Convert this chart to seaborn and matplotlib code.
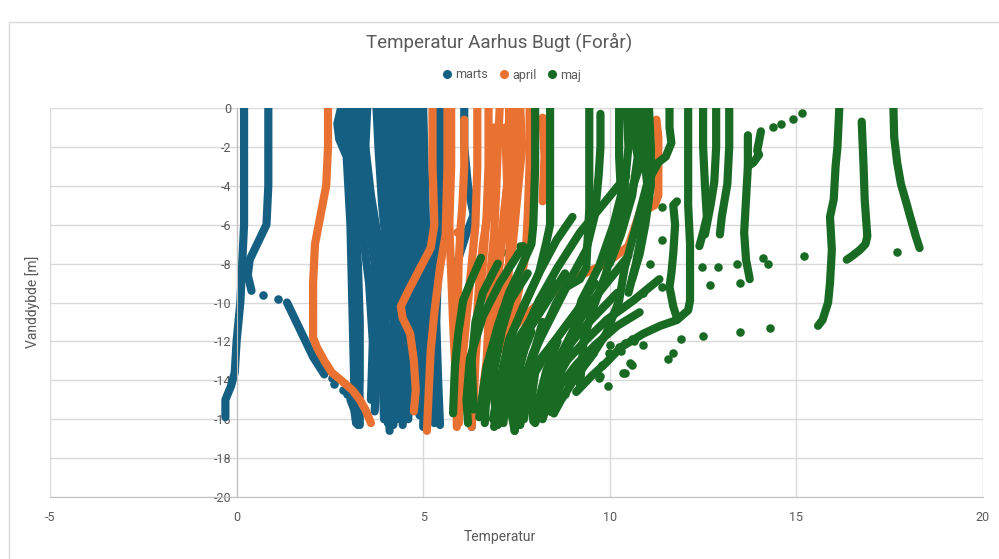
import matplotlib
matplotlib.use("Agg")
import matplotlib.pyplot as plt
from matplotlib.lines import Line2D
from matplotlib.patches import Rectangle
import numpy as np
import pandas as pd
import seaborn as sns

# * Months (series) and their colours
months = ["marts", "april", "maj"]
colors = {"marts": "#156082", "april": "#E97132", "maj": "#196B24"}

# * CTD casts: each cast is a list of (temperature, depth) points
marts_casts = [
    [(0.2, 0), (0.2, -6), (0.15, -8), (0.1, -10), (0.0, -12), (-0.05, -13.6), (-0.15, -14.3), (-0.3, -15), (-0.3, -15.9)],
    [(0.85, 0), (0.85, -4), (0.8, -6), (0.65, -6.6), (0.5, -7.2), (0.35, -7.8), (0.3, -8.6), (0.4, -9.4)],
    [(1.35, -10), (1.5, -10.6), (1.7, -11.4), (1.9, -12.2), (2.05, -12.8), (2.25, -13.4), (2.35, -13.7)],
    [(3.05, -15), (3.15, -15.5), (3.2, -16.1)],
    [(2.8, 0), (2.7, -0.8), (2.75, -1.6), (2.95, -2.5), (3.05, -6), (3.1, -10), (3.15, -14), (3.2, -16.2)],
    [(2.9, 0), (2.85, -1), (3.0, -3), (3.1, -7), (3.2, -12), (3.3, -15), (3.3, -16.3)],
    [(3.0, 0), (3.1, -2), (3.15, -5), (3.25, -8), (3.3, -11), (3.3, -14), (3.25, -16.3)],
    [(3.15, 0), (3.2, -3), (3.35, -6), (3.55, -9), (3.65, -12), (3.6, -15)],
    [(3.3, 0), (3.35, -3), (3.5, -5.5), (3.7, -8), (3.8, -11), (3.75, -14), (3.7, -15.6)],
    [(3.5, 0), (3.45, -2), (3.6, -4.5), (3.9, -8), (4.0, -11.5), (4.05, -14.5), (4.1, -16.6)],
    [(3.4, -0.5), (3.5, -4), (3.8, -7), (3.95, -9.5), (3.9, -13), (3.95, -16)],
    [(3.75, 0), (3.8, -2), (3.9, -5), (4.05, -8), (4.2, -11), (4.1, -14), (4.05, -16.2)],
    [(3.95, 0), (4.05, -4), (4.15, -8), (4.25, -12), (4.2, -16.3)],
    [(4.1, 0), (4.2, -3), (4.3, -6), (4.35, -10), (4.4, -13.5), (4.3, -16)],
    [(4.25, 0), (4.3, -4), (4.25, -8), (4.2, -12), (4.15, -15)],
    [(4.35, 0), (4.4, -4), (4.5, -8), (4.55, -11), (4.5, -14), (4.45, -16.3)],
    [(4.5, 0), (4.55, -3), (4.6, -7), (4.65, -12), (4.6, -16)],
    [(4.6, 0), (4.65, -3), (4.7, -7), (4.8, -10), (4.85, -13), (4.9, -15.8)],
    [(4.7, 0), (4.8, -5), (4.9, -9), (5.05, -13), (5.1, -16)],
    [(4.8, 0), (4.85, -3), (4.95, -7), (5.0, -10), (5.05, -13), (5.0, -16.4)],
    [(5.0, 0), (5.05, -4), (5.1, -8), (5.15, -11), (5.2, -14), (5.25, -16)],
    [(5.3, 0), (5.35, -3), (5.3, -6), (5.25, -10), (5.3, -14), (5.3, -16.2)],
    [(5.5, 0), (5.5, -2), (5.45, -5), (5.4, -8), (5.35, -11), (5.4, -14), (5.45, -16.3)],
    [(6.1, 0), (6.1, -2), (6.2, -4), (6.35, -5.5), (6.15, -6.5), (5.9, -8), (5.95, -11), (6.1, -14), (6.3, -16.4)],
]
marts_dots = [(0.7, -9.6), (1.1, -9.8), (2.55, -13.9), (2.6, -14.2), (2.85, -14.5), (2.95, -14.7)]

april_casts = [
    [(2.45, 0), (2.45, -2), (2.4, -4), (2.3, -5), (2.2, -6), (2.1, -7), (2.05, -9), (2.05, -11.8), (2.15, -12.3),
     (2.35, -13), (2.55, -13.6), (2.8, -14), (3.1, -14.5), (3.3, -15), (3.45, -15.5), (3.6, -16.2)],
    [(5.25, 0), (5.25, -3), (5.3, -6), (5.2, -7.2), (4.9, -8.3), (4.6, -9.4), (4.4, -10.2), (4.45, -10.8),
     (4.65, -11.6), (4.75, -13), (4.8, -14.5), (4.75, -15.6)],
    [(5.65, 0), (5.65, -3), (5.6, -6.5), (5.45, -8.2), (5.3, -10.5), (5.2, -12.5), (5.15, -14.5), (5.1, -16.6)],
    [(5.75, 0), (5.75, -3), (5.7, -6), (5.75, -8.5), (5.8, -11), (5.85, -13), (5.9, -15), (5.9, -16.4)],
    [(6.1, -0.6), (6.1, -3), (6.05, -5), (6.0, -6.2), (5.95, -8), (5.9, -12), (5.95, -16.2)],
    [(6.45, 0), (6.45, -3), (6.4, -6), (6.3, -8), (6.2, -10), (6.1, -12), (6.0, -14), (5.95, -16.2)],
    [(6.75, 0), (6.75, -3), (6.7, -5.5), (6.6, -8), (6.5, -10), (6.4, -13), (6.35, -15.5)],
    [(7.05, 0), (7.0, -2), (6.95, -4.5), (6.9, -6.5), (6.8, -8.5), (6.75, -11), (6.7, -13), (6.6, -14.5)],
    [(7.3, 0), (7.3, -3), (7.2, -5), (7.1, -7), (7.0, -9), (6.95, -11)],
    [(7.2, -1), (7.25, -4), (7.1, -6.5), (6.95, -9), (6.8, -11.5), (6.7, -14)],
    [(7.45, 0), (7.45, -3), (7.35, -5.5), (7.3, -8), (7.25, -10), (7.2, -12)],
    [(7.6, 0), (7.65, -2), (7.5, -5), (7.4, -7), (7.2, -9), (7.0, -11), (6.85, -13)],
    [(7.85, 0), (7.85, -3), (7.8, -5.5), (7.75, -7.5), (7.6, -9), (7.45, -10.5), (7.3, -12)],
    [(6.9, -1), (6.85, -4), (6.6, -7), (6.5, -9), (6.4, -12), (6.3, -16.4)],
    [(8.2, -0.5), (8.25, -2.5), (8.2, -4.8)],
    [(11.25, -0.6), (11.3, -1.5), (11.3, -4.5), (11.2, -5.0), (10.8, -5.4), (10.5, -7.1), (9.9, -8.0),
     (9.1, -8.7), (8.7, -9.2), (8.2, -9.9), (7.7, -10.7), (7.3, -11.6), (7.0, -12.5)],
]
april_dots = [(5.9, -6.4)]

maj_casts = [
    [(8.0, 0), (8.0, -3), (7.95, -6), (7.9, -7), (7.6, -8.3), (7.3, -9.5), (7.0, -11.2), (6.7, -13.3), (6.5, -15.9)],
    [(8.4, 0), (8.4, -3), (8.4, -6), (8.3, -6.9), (8.1, -8.5), (7.7, -10.2), (7.3, -11.9), (7.05, -14.1), (6.87, -16)],
    [(9.45, 0), (9.45, -3), (9.45, -5.2), (9.4, -7), (9.37, -8.2), (9.2, -8.8), (8.84, -9.2), (8.39, -10.9),
     (7.94, -12.6), (7.68, -14.1), (7.5, -16)],
    [(9.75, -0.3), (9.75, -2), (9.7, -3.5), (9.6, -5.5), (9.37, -7.3), (9.0, -8.6), (8.57, -10.0), (8.1, -12.0),
     (7.7, -14.0), (7.45, -16.6)],
    [(10.25, 0), (10.25, -2.5), (10.3, -4.5), (10.1, -6), (9.7, -8.2), (9.24, -9.9), (9.0, -11.6), (8.6, -13.3), (8.2, -16)],
    [(10.45, 0), (10.5, -2), (10.4, -4), (10.2, -6), (9.9, -7.5)],
    [(10.65, 0), (10.65, -1.5), (10.8, -3), (10.5, -4.7), (10.1, -6.9), (9.9, -8.5), (9.55, -10.3), (9.3, -11.9), (9.2, -14.3)],
    [(10.8, 0), (10.75, -2.5), (10.6, -4.5), (10.3, -6.5), (10.0, -8)],
    [(10.9, 0), (10.9, -2), (11.0, -3.9), (10.7, -6.1), (10.4, -8.2), (10.25, -9.9), (9.9, -11.6), (9.5, -12.8),
     (9.1, -13.8), (8.7, -15), (8.5, -15.7)],
    [(11.05, 0), (11.1, -2), (11.1, -4), (10.95, -6), (10.8, -7.5), (10.6, -8.8)],
    [(11.6, 0), (11.6, -1), (11.65, -1.8), (11.5, -2.5), (11.3, -2.8), (11.1, -3.5), (10.95, -5), (10.85, -6.5),
     (10.7, -8), (10.5, -9.5)],
    [(12.1, 0), (12.1, -2), (12.1, -5), (12.15, -7), (12.15, -9.9), (12.1, -10.4), (11.8, -10.9), (11.35, -11.2),
     (10.9, -11.6), (10.3, -12.3), (9.9, -13.1), (9.5, -13.8), (9.1, -14.6)],
    [(12.5, 0), (12.5, -2), (12.55, -4), (12.6, -5.6), (12.5, -6.4), (12.4, -7.1)],
    [(12.85, 0), (12.85, -2), (12.8, -3.8), (12.7, -5), (12.6, -6), (12.55, -6.5)],
    [(13.2, 0), (13.2, -2), (13.15, -3.9), (13.0, -5.6), (12.95, -6.5)],
    [(13.7, -1.4), (13.7, -3), (13.65, -4.7), (13.6, -6.4), (13.65, -7.8), (13.75, -8.8)],
    [(14.05, -1.2), (13.95, -2.2), (14.0, -2.4), (13.85, -2.8), (13.7, -3.0)],
    [(16.15, 0), (16.1, -2), (16.05, -3), (16.0, -4.7), (15.9, -5.6), (15.95, -7.3), (15.9, -9), (15.85, -10),
     (15.7, -10.9), (15.58, -11.2)],
    [(16.75, -0.7), (16.8, -3), (16.83, -4.7), (16.9, -6.6), (16.85, -7.0), (16.7, -7.3), (16.5, -7.6), (16.35, -7.8)],
    [(17.6, 0), (17.62, -1.5), (17.7, -2.8), (17.8, -3.9), (17.95, -4.9), (18.05, -5.6), (18.2, -6.6), (18.3, -7.2)],
    [(11.8, -4.8), (11.7, -5.0), (11.75, -6), (11.7, -7.5), (11.65, -8.5), (11.6, -9.2), (11.7, -10.2), (11.8, -10.8)],
    [(6.55, -7.7), (6.3, -8.8), (6.07, -9.9), (5.94, -11.6), (5.85, -13.3), (5.8, -15.7)],
    [(7.0, -8), (6.6, -9.5), (6.4, -11), (6.3, -13), (6.35, -15.5)],
    [(7.68, -7.1), (7.05, -9.0), (6.6, -10.7), (6.25, -12.9), (6.16, -15.0), (6.2, -16.2)],
    [(7.8, -8.5), (7.3, -10), (7.0, -11.5), (6.8, -13), (6.7, -14.5), (6.65, -16.2)],
    [(9.0, -5.6), (8.57, -6.8), (8.1, -8.5), (7.68, -10.2), (7.32, -11.9), (7.05, -14.1), (6.95, -16.3)],
    [(10.44, -3.5), (9.8, -5.0), (9.2, -6.4), (8.6, -8.2), (8.1, -9.9), (7.7, -11.6), (7.4, -13.3), (7.2, -15), (7.15, -16.2)],
    [(8.8, -8.5), (8.3, -10), (7.8, -11.5), (7.5, -13), (7.3, -14), (7.2, -15.5)],
    [(8.5, -9), (8.0, -10.5), (7.5, -12), (7.2, -13.5), (7.0, -15), (6.9, -16.4)],
    [(9.6, -9), (9.1, -10.5), (8.6, -11.8), (8.1, -13), (7.8, -14.5), (7.7, -16)],
    [(9.3, -10), (8.9, -11), (8.4, -12.3), (8.0, -13.6), (7.9, -15), (7.95, -16.1)],
    [(10.2, -9.5), (9.7, -10.5), (9.2, -11.5), (8.8, -12.5), (8.4, -14), (8.2, -15)],
    [(10.8, -10.5), (10.2, -11.2), (9.6, -12.2), (9.1, -13.2), (8.7, -14.2), (8.5, -15)],
    [(11.33, -8.8), (10.63, -9.9), (9.91, -10.9), (9.38, -11.9), (8.84, -13), (8.3, -14.4), (7.95, -15.4)],
    [(10.5, -7.6), (10.0, -8.8), (9.5, -10), (9.0, -11.5), (8.6, -13), (8.3, -14.5), (8.0, -16.2)],
    [(7.4, -9.5), (7.1, -11.5), (6.9, -13.5), (6.9, -15), (7.0, -16.3)],
    [(8.0, -10.5), (7.6, -12), (7.4, -13.5), (7.3, -15), (7.45, -16.6)],
    [(7.9, -11.5), (7.6, -13), (7.55, -14.5), (7.6, -16)],
    [(7.7, -12.5), (7.5, -14), (7.4, -15.5)],
    [(8.2, -11), (7.9, -13), (7.7, -15), (7.6, -16.3)],
    [(9.0, -12.5), (8.7, -13.5), (8.6, -14.5)],
    [(8.6, -12), (8.3, -13.5), (8.1, -15), (8.5, -15.7)],
]
maj_dots = [
    (14.37, -0.96), (14.6, -0.8), (14.9, -0.57), (15.15, -0.27), (17.7, -7.4), (15.2, -7.6), (14.3, -11.3),
    (13.5, -11.5), (12.5, -11.7), (14.1, -7.7), (14.25, -8.0), (13.4, -8.0), (13.5, -9.0), (12.9, -8.2),
    (12.46, -8.2), (12.68, -9.1), (11.4, -6.8), (11.4, -5.1), (11.4, -9.2), (10.9, -9.5), (11.9, -11.9),
    (11.55, -12.9), (11.7, -12.6), (10.4, -13.6), (10.6, -13.2), (9.95, -14.3), (9.73, -13.8), (10.36, -13.6),
    (10.54, -13.1), (10.66, -12.0), (10.9, -12.2), (10.0, -12.2), (10.3, -12.5), (9.8, -13.2), (9.7, -13.9),
    (8.8, -14.7), (8.5, -15.2), (8.4, -15.6), (11.07, -8.0), (6.9, -7.6), (7.1, -7.4), (7.6, -7.1),
    (9.56, -12.6), (9.97, -12.6), (10.24, -12.3), (10.42, -12.1), (10.6, -11.9), (8.57, -14.3), (8.84, -14.1),
]

# * Long-form tables for seaborn
rows, dot_rows = [], []
for month, casts, dots in [("marts", marts_casts, marts_dots), ("april", april_casts, april_dots),
                           ("maj", maj_casts, maj_dots)]:
    for i, cast in enumerate(casts):
        for t, d in cast:
            rows.append({"month": month, "cast": f"{month}{i}", "temp": t, "depth": d})
    for t, d in dots:
        dot_rows.append({"month": month, "temp": t, "depth": d})
casts_df = pd.DataFrame(rows)
dots_df = pd.DataFrame(dot_rows)

sns.set_style("white")
plt.rcParams["font.family"] = ["Roboto", "DejaVu Sans"]
plt.rcParams["axes.unicode_minus"] = False
gray = "#595959"

fig = plt.figure(figsize=(9.99, 5.59), dpi=100)
ax = fig.add_axes([50 / 999, 1 - 497 / 559, 933 / 999, 389 / 559])

# * Casts drawn as thick round-capped lines so they look like densely packed markers
for month in months:
    sub = casts_df[casts_df["month"] == month]
    sns.lineplot(data=sub, x="temp", y="depth", units="cast", estimator=None, sort=False,
                 color=colors[month], lw=5.9, solid_capstyle="round", solid_joinstyle="round",
                 ax=ax, legend=False)
    sdots = dots_df[dots_df["month"] == month]
    sns.scatterplot(data=sdots, x="temp", y="depth", color=colors[month], s=38, linewidth=0,
                    ax=ax, legend=False)

ax.set_xlim(-5, 20)
ax.set_ylim(-20, 0)
ax.set_xticks(np.arange(-5, 21, 5))
ax.set_yticks(np.arange(-20, 1, 2))
ax.grid(True, color="#D9D9D9", lw=1)
ax.set_axisbelow(True)
for s in ["top", "right"]:
    ax.spines[s].set_visible(False)
ax.spines["left"].set_position(("data", 0))
ax.spines["left"].set_color("#BFBFBF")
ax.spines["bottom"].set_color("#BFBFBF")
ax.tick_params(length=0, labelsize=9, labelcolor=gray)
ax.tick_params(axis="x", pad=10)
ax.tick_params(axis="y", pad=4)
ax.set_xlabel("")
ax.set_ylabel("")

fig.text(0.5, 1 - 42 / 559, "Temperatur Aarhus Bugt (Forår)", ha="center", va="center", fontsize=13.5, color=gray)
fig.text(0.5, 1 - 537 / 559, "Temperatur", ha="center", va="center", fontsize=10, color=gray)
fig.text(33 / 999, 1 - 302 / 559, "Vanddybde [m]", ha="center", va="center", rotation=90, fontsize=10, color=gray)

handles = [Line2D([], [], marker="o", ls="", color=colors[m], markersize=5.5) for m in months]
fig.legend(handles, months, loc="center", bbox_to_anchor=(512 / 999, 1 - 75 / 559), ncol=3, frameon=False,
           fontsize=9, labelcolor=gray, handlelength=0.7, handletextpad=0.3, columnspacing=0.9)

# * Chart frame (cut off on the right and bottom in the reference)
fig.patches.append(Rectangle((9 / 999, -0.1), 1.2, 1 - 22 / 559 + 0.1, transform=fig.transFigure,
                             fill=False, ec="#D9D9D9", lw=1))

fig.savefig("out.png", dpi=100)
